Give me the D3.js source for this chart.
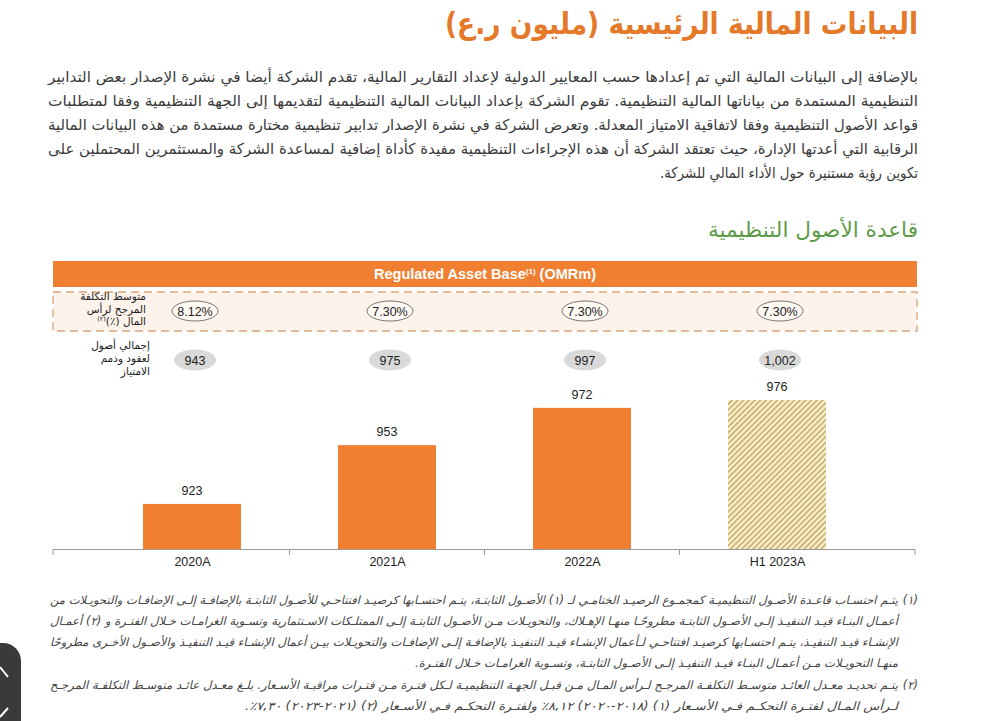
<!DOCTYPE html>
<html>
<head>
<meta charset="utf-8">
<script src="https://cdn.jsdelivr.net/npm/d3@7"></script>
<style>
  body{margin:0;background:#fff;}
  svg text{font-family:"DejaVu Sans",sans-serif;}
  .lat{font-family:"Liberation Sans",Arial,sans-serif !important;}
</style>
</head>
<body>
<div class="page"></div>
<script>
var years = ["2020A","2021A","2022A","H1 2023A"];
var rabValues = [923, 953, 972, 976];
var waccLabels = ["8.12%","7.30%","7.30%","7.30%"];
var concessionLabels = ["943","975","997","1,002"];

var titleText = "البيانات المالية الرئيسية (مليون ر.ع)";
var subtitleText = "قاعدة الأصول التنظيمية";
var paragraphLines = [
  "بالإضافة إلى البيانات المالية التي تم إعدادها حسب المعايير الدولية لإعداد التقارير المالية، تقدم الشركة أيضا في نشرة الإصدار بعض التدابير",
  "التنظيمية المستمدة من بياناتها المالية التنظيمية. تقوم الشركة بإعداد البيانات المالية التنظيمية لتقديمها إلى الجهة التنظيمية وفقا لمتطلبات",
  "قواعد الأصول التنظيمية وفقا لاتفاقية الامتياز المعدلة. وتعرض الشركة في نشرة الإصدار تدابير تنظيمية مختارة مستمدة من هذه البيانات المالية",
  "الرقابية التي أعدتها الإدارة، حيث تعتقد الشركة أن هذه الإجراءات التنظيمية مفيدة كأداة إضافية لمساعدة الشركة والمستثمرين المحتملين على",
  "تكوين رؤية مستنيرة حول الأداء المالي للشركة."
];
var waccRowLabel = ["متوسط التكلفة","المرجح لرأس","المال (٪)"];
var concessionRowLabel = ["إجمالي أصول","لعقود وذمم","الامتياز"];
var footnoteLines = [
  "يتـم احتسـاب قاعـدة الأصـول التنظيميـة كمجمـوع الرصيـد الختامـي لـ (١) الأصـول الثابتـة، يتـم احتسـابها كرصيـد افتتاحـي للأصـول الثابتـة بالإضافـة إلـى الإضافـات والتحويـلات من",
  "أعمـال البنـاء قيـد التنفيـذ إلـى الأصـول الثابتـة مطروحًـا منهـا الإهـلاك، والتحويـلات مـن الأصـول الثابتـة إلـى الممتلـكات الاسـتثمارية وتسـوية الغرامـات خـلال الفتـرة و (٢) أعمـال",
  "الإنشـاء قيـد التنفيـذ، يتـم احتسـابها كرصيـد افتتاحـي لـأعمال الإنشـاء قيـد التنفيـذ بالإضافـة إلـى الإضافـات والتحويـلات بيـن أعمال الإنشـاء قيـد التنفيـذ والأصـول الأخـرى مطروحًا",
  "منهـا التحويـلات مـن أعمـال البنـاء قيـد التنفيـذ إلـى الأصـول الثابتـة، وتسـوية الغرامـات خـلال الفتـرة.",
  "يتـم تحديـد معـدل العائـد متوسـط التكلفـة المرجـح لـرأس المـال مـن قبـل الجهـة التنظيميـة لـكل فتـرة مـن فتـرات مراقبـة الأسـعار. بلـغ معـدل عائـد متوسـط التكلفـة المرجـح",
  "لـرأس المـال لفتـرة التحكـم فـي الأسـعار (١) (٢٠١٨-٢٠٢٠) ٨,١٢٪ ولفتـرة التحكـم فـي الأسـعار (٢) (٢٠٢١-٢٠٢٣) ٧,٣٠٪."
];
var footnoteMarks = ["(١)","","","","(٢)",""];

var RabChart = (function(){
  var svg, W = 986, H = 721;
  var orange = "#f07f32";

  // right aligned arabic line, stretched to a given width
  function arLine(g, txt, xRight, y, size, width, color){
    var t = g.append("text")
      .attr("x", xRight)
      .attr("y", y)
      .attr("direction","rtl")
      .attr("text-anchor","start")
      .style("font-size", size+"px")
      .style("fill", color)
      .text(txt);
    if(width){
      t.attr("textLength", width).attr("lengthAdjust","spacingAndGlyphs");
    }
    return t;
  }

  function drawText(){
    var g = svg.append("g");
    arLine(g, titleText, 918, 34, 30, 473, "#e5792a").style("font-weight","bold");

    var pw = [870,870,870,870,258];
    for(var i=0;i<paragraphLines.length;i++){
      arLine(g, paragraphLines[i], 918, 82+i*24, 15, pw[i], "#3b3b3b");
    }
    arLine(g, subtitleText, 918, 237, 21, 210, "#5e9b48");

    var fw = [848,848,848,483,848,653];
    for(var j=0;j<footnoteLines.length;j++){
      var yy = 604+j*21 + (j>=4 ? 1 : 0);
      if(footnoteMarks[j]){
        arLine(g, footnoteMarks[j], 918, yy, 11.5, null, "#444").style("font-style","italic");
      }
      arLine(g, footnoteLines[j], 898, yy, 11.5, fw[j], "#444").style("font-style","italic");
    }
  }

  function drawChart(){
    var x = d3.scalePoint().domain(years).range([192, 777]);
    var y = d3.scaleLinear().domain([900, 976]).range([549, 400]);
    var barW = 98, left = 53, right = 917;

    // header
    svg.append("rect").attr("x",left).attr("y",261).attr("width",right-left).attr("height",26).style("fill",orange);
    var ht = svg.append("text").attr("class","lat")
      .attr("x",(left+right)/2).attr("y",279)
      .attr("text-anchor","middle")
      .style("font-size","14.5px").style("font-weight","bold").style("fill","#fff");
    ht.append("tspan").text("Regulated Asset Base");
    ht.append("tspan").attr("dy",-5).style("font-size","8px").text("(1)");
    ht.append("tspan").attr("dy",5).text(" (OMRm)");

    // dashed wacc box
    svg.append("rect").attr("x",left).attr("y",292).attr("width",right-left).attr("height",39)
      .style("fill","#fdf3ea").style("stroke","#d9a77e").style("stroke-width",1.3)
      .style("stroke-dasharray","8,5");

    var lab = svg.append("g");
    waccRowLabel.forEach(function(s,i){
      var t = arLine(lab, s, 146, 300+i*12.5, 10.5, null, "#222");
      if(i==2){
        t.append("tspan").attr("dy",-4).style("font-size","6.5px").text("(٢)");
      }
    });
    concessionRowLabel.forEach(function(s,i){
      arLine(lab, s, 150, 349+i*13, 10.5, null, "#222");
    });

    var wg = svg.append("g").selectAll("g").data(waccLabels).enter().append("g")
      .attr("transform",function(d,i){ return "translate("+(x(years[i])+3)+",311)"; });
    wg.append("ellipse").attr("rx",23).attr("ry",10)
      .style("fill","#fffaf4").style("stroke","#555").style("stroke-width",0.8);
    wg.append("text").attr("class","lat").attr("text-anchor","middle").attr("y",4.5)
      .style("font-size","12.5px").style("fill","#222").text(function(d){ return d; });

    var cg = svg.append("g").selectAll("g").data(concessionLabels).enter().append("g")
      .attr("transform",function(d,i){ return "translate("+(x(years[i])+3)+",360)"; });
    cg.append("ellipse").attr("rx",21).attr("ry",10.5).style("fill","#d9d9d9");
    cg.append("text").attr("class","lat").attr("text-anchor","middle").attr("y",4.5)
      .style("font-size","12.5px").style("fill","#222").text(function(d){ return d; });

    // hatch pattern for the half year bar
    var pat = svg.append("defs").append("pattern")
      .attr("id","hatch").attr("patternUnits","userSpaceOnUse")
      .attr("width",4).attr("height",4)
      .attr("patternTransform","rotate(45)");
    pat.append("rect").attr("width",4).attr("height",4).style("fill","#fcf0c8");
    pat.append("line").attr("x1",0.7).attr("y1",0).attr("x2",0.7).attr("y2",4)
      .style("stroke","#b89c5e").style("stroke-width",1.3);

    svg.append("g").selectAll("rect").data(rabValues).enter().append("rect")
      .attr("x",function(d,i){ return x(years[i])-barW/2; })
      .attr("y",function(d){ return y(d); })
      .attr("width",barW)
      .attr("height",function(d){ return y(900)-y(d); })
      .style("fill",function(d,i){ return i==3 ? "url(#hatch)" : orange; });

    svg.append("g").selectAll("text").data(rabValues).enter().append("text")
      .attr("class","lat")
      .attr("x",function(d,i){ return x(years[i]); })
      .attr("y",function(d){ return y(d)-9; })
      .attr("text-anchor","middle")
      .style("font-size","12.5px").style("fill","#222")
      .text(function(d){ return d3.format(",")(d); });

    // axis: labels from the point scale, boundary ticks between categories
    var ax = svg.append("g").attr("transform","translate(0,549)")
      .call(d3.axisBottom(x).tickSize(0).tickPadding(8));
    ax.select(".domain").remove();
    ax.selectAll("text").attr("class","lat").style("font-size","12.5px").style("fill","#222");

    var bounds = [left];
    for(var i=1;i<years.length;i++){
      bounds.push((x(years[i-1])+x(years[i]))/2);
    }
    bounds.push(right-2);
    svg.append("line").attr("x1",left).attr("x2",right-2).attr("y1",549.5).attr("y2",549.5)
      .style("stroke","#9a9a9a").style("stroke-width",1);
    svg.append("g").selectAll("line").data(bounds).enter().append("line")
      .attr("x1",function(d){ return d; }).attr("x2",function(d){ return d; })
      .attr("y1",549).attr("y2",555)
      .style("stroke","#9a9a9a").style("stroke-width",1);
  }

  function drawScrollButton(){
    var b = svg.append("g");
    b.append("rect").attr("x",-40).attr("y",643).attr("width",61).attr("height",110).attr("rx",18)
      .style("fill","#3a3a3a");
    b.append("polyline").attr("points","0,667 8,677")
      .style("stroke","#fff").style("stroke-width",2).style("fill","none");
    b.append("polyline").attr("points","0,717 8,708")
      .style("stroke","#fff").style("stroke-width",2).style("fill","none");
  }

  return {
    init : function(){
      svg = d3.select(".page").append("svg").attr("width",W).attr("height",H);
      drawText();
      drawChart();
      drawScrollButton();
    }
  }
})();

RabChart.init();
</script>
</body>
</html>
